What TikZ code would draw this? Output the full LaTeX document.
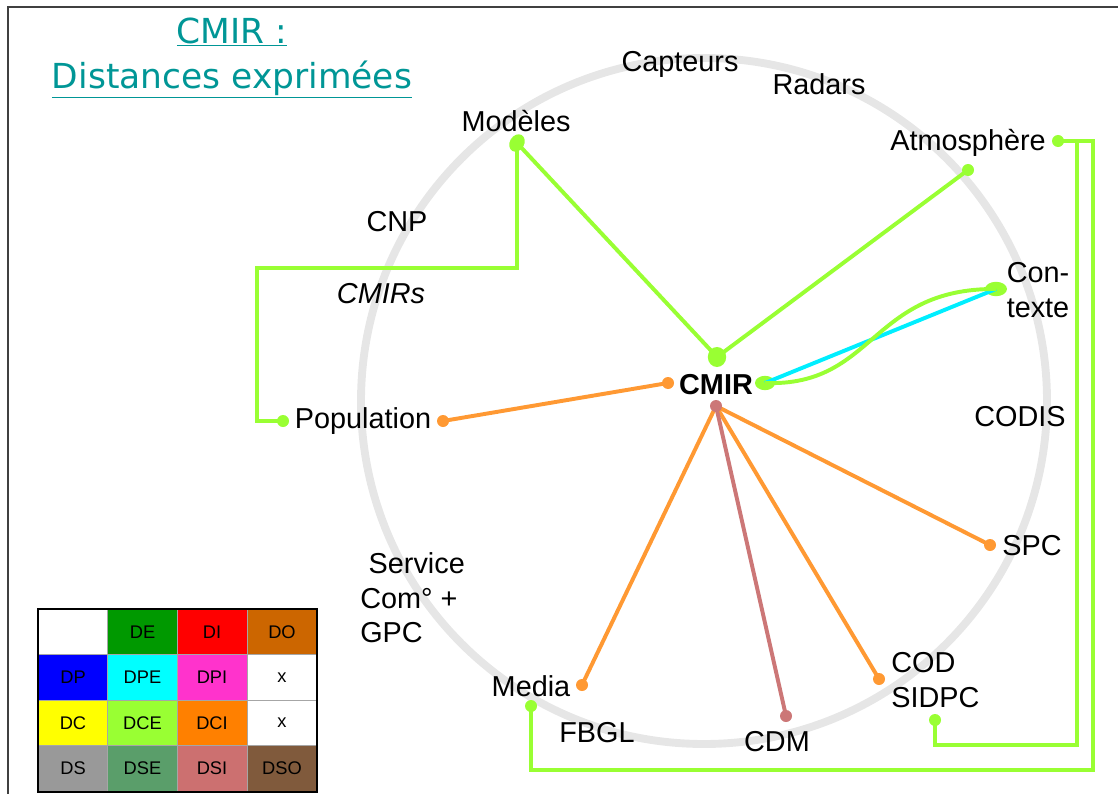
\documentclass[tikz,border=0pt]{standalone}
\usepackage{fontspec}
\setmainfont{Liberation Sans}
\newfontfamily\titlefont{DejaVu Sans}
\usetikzlibrary{shapes.geometric}

\definecolor{lime}{RGB}{153,255,51}
\definecolor{orangeline}{RGB}{255,153,51}
\definecolor{roseline}{RGB}{204,119,119}
\definecolor{cyanline}{RGB}{0,238,255}
\definecolor{ringgray}{RGB}{230,230,230}
\definecolor{titleteal}{RGB}{0,150,150}
\definecolor{cDE}{RGB}{0,153,0}
\definecolor{cDI}{RGB}{255,0,0}
\definecolor{cDO}{RGB}{204,102,0}
\definecolor{cDP}{RGB}{0,0,255}
\definecolor{cDPE}{RGB}{0,255,255}
\definecolor{cDPI}{RGB}{255,51,204}
\definecolor{cDC}{RGB}{255,255,0}
\definecolor{cDCE}{RGB}{153,255,51}
\definecolor{cDCI}{RGB}{255,128,0}
\definecolor{cDS}{RGB}{153,153,153}
\definecolor{cDSE}{RGB}{90,158,106}
\definecolor{cDSI}{RGB}{204,112,112}
\definecolor{cDSO}{RGB}{128,90,60}

\begin{document}
\begin{tikzpicture}[x=0.025cm, y=-0.025cm,
  label/.style={font=\fontsize{20.5}{24.5}\selectfont, inner sep=0pt},
  dot/.style={circle, fill=#1, inner sep=0pt, minimum size=0.3cm},
  bigdot/.style={ellipse, fill=lime, inner sep=0pt},
  link/.style={draw=#1, line width=2.8pt},
  cell/.style={draw=gray!70, line width=0.6pt, minimum width=1.75cm, minimum height=1.1375cm, inner sep=0pt, font=\fontsize{13}{15}\selectfont}]
\useasboundingbox (0,0) rectangle (1118,794);
\draw[darkgray, line width=1.2pt] (8,794) -- (8,7) -- (1118,7);

% title
\node[font=\titlefont\fontsize{24.5}{30}\selectfont, text=titleteal, align=center, inner sep=0pt] (title) at (232,58)
  {\underline{CMIR :}\\[2pt]\underline{Distances exprimées}};

% ring
\draw[ringgray, line width=5.6pt] (704,401) circle[radius=343];

% labels
\node[label] (capteurs)   at (680,64)  {Capteurs};
\node[label] (radars)     at (819,84)  {Radars};
\node[label] (modeles)    at (516,121) {Modèles};
\node[label] (atmosphere) at (968,143) {Atmosphère};
\node[label] (cnp)        at (397,222) {CNP};
\node[label, font=\fontsize{20.5}{24.5}\selectfont\itshape] (cmirs) at (381,294) {CMIRs};
\node[label, align=left] (contexte) at (1038,290) {Con-\\texte};
\node[label, font=\fontsize{20.5}{24.5}\selectfont\bfseries] (cmir) at (716,385) {CMIR};
\node[label] (population) at (363,421) {Population};
\node[label] (codis)      at (1020,417) {CODIS};
\node[label] (spc)        at (1032,546) {SPC};
\node[label, align=left, anchor=west] (service) at (360,598) {\hspace{6pt}Service\\Com° +\\GPC};
\node[label] (media)      at (531,686) {Media};
\node[label] (fbgl)       at (597,733) {FBGL};
\node[label] (cdm)        at (777,742) {CDM};
\node[label, align=left, anchor=west] (codsidpc) at (891,680) {COD\\SIDPC};

% end points
\node[bigdot, minimum width=0.36cm, minimum height=0.46cm, rotate=-30] (modelesD) at (517,143) {};
\node[bigdot, minimum width=0.46cm, minimum height=0.5cm] (cmirT) at (717,357) {};
\node[bigdot, minimum width=0.5cm, minimum height=0.36cm] (cmirR) at (765,383) {};
\node[bigdot, minimum width=0.55cm, minimum height=0.36cm] (contexteD) at (996,289) {};
\node[dot=lime] (atmosphereD) at (968,170) {};
\node[dot=lime] (atmosphereR) at (1058,141) {};
\node[dot=lime] (populationL) at (283,421) {};
\node[dot=lime] (mediaG) at (531,706) {};
\node[dot=lime] (sidpcD) at (935,720) {};
\node[dot=orangeline] (populationR) at (443,421) {};
\node[dot=orangeline] (cmirL) at (668,383) {};
\node[dot=orangeline] (spcD) at (990,545) {};
\node[dot=orangeline] (codD) at (879,679) {};
\node[dot=orangeline] (mediaD) at (582,685) {};
\node[dot=roseline] (cdmD) at (786,716) {};

\coordinate (c1) at (517,268);
\coordinate (c2) at (257,268);
\coordinate (c3) at (257,421);
\coordinate (c4) at (1077,141);
\coordinate (c5) at (1077,745);
\coordinate (c6) at (935,745);
\coordinate (c7) at (1093,141);
\coordinate (c8) at (1093,770);
\coordinate (c9) at (531,770);

% connectors
\draw[link=orangeline] (cmirL.center) to (populationR.center);
\draw[link=orangeline] (716,406) to (spcD.center);
\draw[link=orangeline] (716,406) to (codD.center);
\draw[link=orangeline] (716,406) to (mediaD.center);
\draw[link=roseline] (716,406) to (cdmD.center);
\node[dot=roseline] (cmirB) at (716,406) {};
\draw[link=lime] (modelesD.center) to (cmirT.center);
\draw[link=lime] (atmosphereD.center) to (cmirT.center);
\draw[link=lime] (modelesD.center) -- (c1) -- (c2) -- (c3) -- (populationL.center);
\draw[link=cyanline] (cmirR.center) to (contexteD.center);
\draw[link=lime] (cmirR.center) .. controls (875,387) and (870,288) .. (contexteD.center);
\draw[link=lime] (atmosphereR.center) -- (c4) -- (c5) -- (c6) -- (sidpcD.center);
\draw[link=lime] (atmosphereR.center) -- (c7) -- (c8) -- (c9) -- (mediaG.center);

% legend
\node[cell, fill=white]   (l11) at (73,632)    {};
\node[cell, fill=cDE]     (l12) at (142.5,632) {DE};
\node[cell, fill=cDI]     (l13) at (212,632)   {DI};
\node[cell, fill=cDO]     (l14) at (282,632)   {DO};
\node[cell, fill=cDP]     (l21) at (73,677.5)    {DP};
\node[cell, fill=cDPE]    (l22) at (142.5,677.5) {DPE};
\node[cell, fill=cDPI]    (l23) at (212,677.5)   {DPI};
\node[cell, fill=white]   (l24) at (282,677.5)   {x};
\node[cell, fill=cDC]     (l31) at (73,723)    {DC};
\node[cell, fill=cDCE]    (l32) at (142.5,723) {DCE};
\node[cell, fill=cDCI]    (l33) at (212,723)   {DCI};
\node[cell, fill=white]   (l34) at (282,723)   {x};
\node[cell, fill=cDS]     (l41) at (73,768.5)    {DS};
\node[cell, fill=cDSE]    (l42) at (142.5,768.5) {DSE};
\node[cell, fill=cDSI]    (l43) at (212,768.5)   {DSI};
\node[cell, fill=cDSO]    (l44) at (282,768.5)   {DSO};
\draw[black, line width=1.4pt] (l11.north west) rectangle (l44.south east);
\end{tikzpicture}
\end{document}
